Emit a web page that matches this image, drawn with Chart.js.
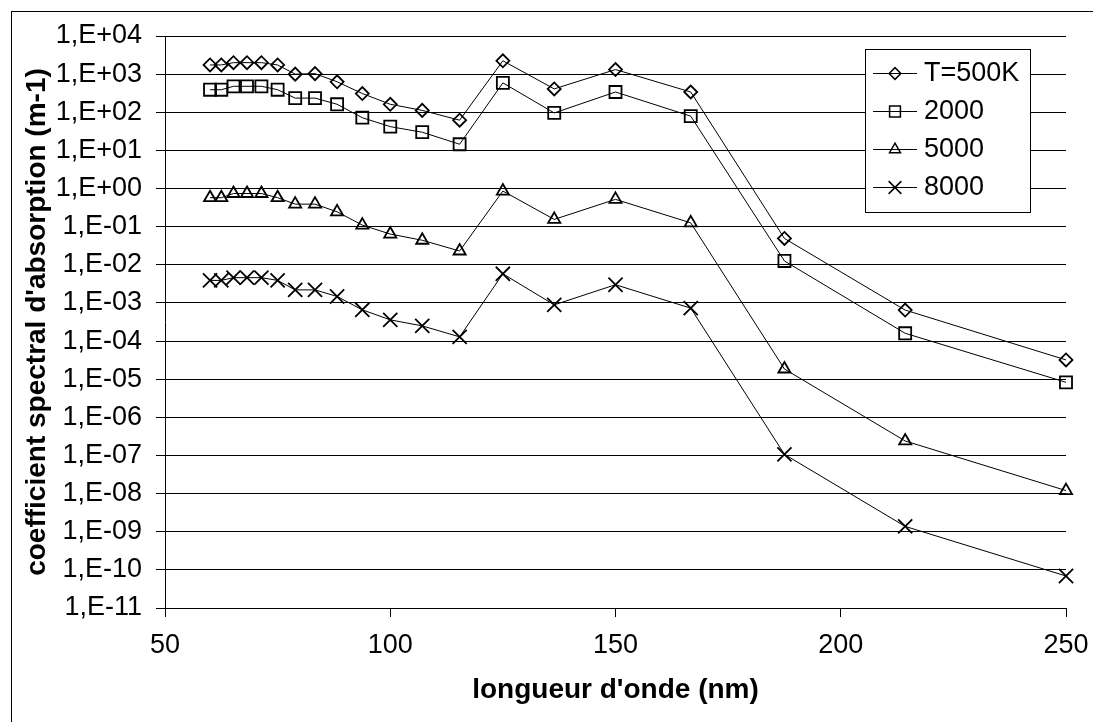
<!DOCTYPE html>
<html>
<head>
<meta charset="utf-8">
<script src="https://cdn.jsdelivr.net/npm/chart.js@4.4.1/dist/chart.umd.min.js"></script>
<style>
  html, body { margin: 0; padding: 0; background: #fff; }
  #wrap { width: 1093px; height: 722px; }
</style>
</head>
<body>
<div id="wrap"><canvas id="plot" width="1093" height="722"></canvas></div>
<script>
// wavelength (nm)
const wavelengths = [60, 62.5, 65.2, 68.2, 71.4, 75, 78.9, 83.3, 88.2, 93.8, 100, 107.1, 115.4, 125, 136.4, 150, 166.7, 187.5, 214.3, 250];

const seriesLabels = ['T=500K', '2000', '5000', '8000'];
const seriesStyles = ['rectRot', 'rect', 'triangle', 'crossRot'];

// absorption coefficient (m-1) per temperature
const k500 = [1740, 1740, 2000, 2000, 2000, 1740, 1000, 1030, 630, 310, 162, 112, 62, 2240, 410, 1320, 340, 0.049, 6.5e-4, 3.2e-5];
const k2000 = [390, 390, 480, 480, 480, 390, 235, 235, 162, 72, 42, 30, 14.5, 590, 96, 340, 79, 0.0126, 1.6e-4, 8.3e-6];
const k5000 = [0.575, 0.575, 0.74, 0.74, 0.74, 0.575, 0.39, 0.39, 0.245, 0.11, 0.064, 0.044, 0.023, 0.86, 0.155, 0.52, 0.126, 1.85e-5, 2.4e-7, 1.2e-8];
const k8000 = [0.0039, 0.0039, 0.0046, 0.0046, 0.0046, 0.0039, 0.0022, 0.0022, 0.00148, 0.00066, 0.00036, 0.00025, 0.000129, 0.0058, 0.00089, 0.0030, 0.00073, 1.07e-7, 1.38e-9, 6.9e-11];

const xTicks = [50, 100, 150, 200, 250];
const yTickValues = [1e-11, 1e-10, 1e-9, 1e-8, 1e-7, 1e-6, 1e-5, 1e-4, 1e-3, 1e-2, 1e-1, 1, 1e1, 1e2, 1e3, 1e4];
const yTickLabels = ['1,E-11', '1,E-10', '1,E-09', '1,E-08', '1,E-07', '1,E-06', '1,E-05', '1,E-04', '1,E-03', '1,E-02', '1,E-01', '1,E+00', '1,E+01', '1,E+02', '1,E+03', '1,E+04'];

const FONT = "'Liberation Sans', Arial, sans-serif";
const radii = { rectRot: 6.5, rect: 8.5, triangle: 7, crossRot: 10 };

function toPoints(values) {
  return wavelengths.map((x, i) => ({ x: x, y: values[i] }));
}

const allSeries = [k500, k2000, k5000, k8000];
const datasets = allSeries.map((vals, i) => ({
  label: seriesLabels[i],
  data: toPoints(vals),
  borderColor: '#000',
  borderWidth: 1,
  pointStyle: seriesStyles[i],
  pointRadius: radii[seriesStyles[i]],
  pointBorderColor: '#000',
  pointBackgroundColor: 'rgba(0,0,0,0)',
  pointBorderWidth: 1.8,
  tension: 0,
  clip: false
}));

// white page + outer frame (right/bottom edges fall outside the picture)
const framePlugin = {
  id: 'frame',
  beforeDraw(chart) {
    const ctx = chart.ctx;
    ctx.save();
    ctx.fillStyle = '#fff';
    ctx.fillRect(0, 0, chart.width, chart.height);
    ctx.strokeStyle = '#000';
    ctx.lineWidth = 1;
    ctx.strokeRect(11.5, 11.5, 1200, 1200);
    ctx.restore();
  }
};

// boxed legend inside the plot, line + marker per entry
const boxLegend = {
  id: 'boxLegend',
  afterDraw(chart) {
    const ctx = chart.ctx;
    const left = 865.5, top = 49.5, w = 165, h = 163;
    ctx.save();
    ctx.fillStyle = '#fff';
    ctx.fillRect(left, top, w, h);
    ctx.strokeStyle = '#000';
    ctx.lineWidth = 1;
    ctx.strokeRect(left, top, w, h);
    chart.data.datasets.forEach((ds, i) => {
      const y = 73 + i * 38;
      ctx.beginPath();
      ctx.moveTo(873, y + 0.5);
      ctx.lineTo(917, y + 0.5);
      ctx.strokeStyle = '#000';
      ctx.lineWidth = 1;
      ctx.stroke();
      ctx.fillStyle = 'rgba(0,0,0,0)';
      ctx.lineWidth = 1.5;
      Chart.helpers.drawPoint(ctx, {
        pointStyle: ds.pointStyle,
        radius: ds.pointRadius * 0.9,
        rotation: 0,
        borderWidth: 1.5
      }, 895, y + 0.5);
      ctx.fillStyle = '#000';
      ctx.font = '27px ' + FONT;
      ctx.textAlign = 'left';
      ctx.textBaseline = 'middle';
      ctx.fillText(ds.label, 924, y + 1);
    });
    ctx.restore();
  }
};

const config = {
  type: 'line',
  data: { datasets: datasets },
  options: {
    responsive: false,
    animation: false,
    devicePixelRatio: 1,
    layout: { padding: { left: 14, top: 36, right: 27, bottom: 15 } },
    plugins: {
      legend: { display: false },
      tooltip: { enabled: false }
    },
    scales: {
      x: {
        type: 'linear',
        min: 50,
        max: 250,
        afterBuildTicks: (scale) => { scale.ticks = xTicks.map(v => ({ value: v })); },
        afterFit: (scale) => {
          scale.height = 707 - 608;
          scale.paddingLeft = 0;
          scale.paddingRight = 0;
        },
        border: { display: true, color: '#000', width: 1 },
        grid: { drawOnChartArea: false, drawTicks: true, tickLength: 9, color: '#000' },
        ticks: {
          color: '#000',
          padding: 12,
          font: { family: FONT, size: 27 },
          maxRotation: 0,
          autoSkip: false,
          callback: (v) => String(v)
        },
        title: {
          display: true,
          text: "longueur d'onde (nm)",
          color: '#000',
          font: { family: FONT, size: 28, weight: 'bold' },
          padding: { top: 0, bottom: 0 }
        }
      },
      y: {
        type: 'logarithmic',
        min: 1e-11,
        max: 1e4,
        afterBuildTicks: (scale) => { scale.ticks = yTickValues.map(v => ({ value: v })); },
        afterFit: (scale) => {
          scale.width = 165 - 14;
          scale.paddingTop = 0;
          scale.paddingBottom = 0;
        },
        border: { display: true, color: '#000', width: 1 },
        grid: { drawOnChartArea: true, drawTicks: true, tickLength: 9, color: '#000', lineWidth: 1 },
        ticks: {
          color: '#000',
          padding: 14,
          autoSkip: false,
          font: { family: FONT, size: 27 },
          callback: (v) => yTickLabels[yTickValues.indexOf(v)]
        },
        title: {
          display: true,
          text: "coefficient spectral d'absorption (m-1)",
          color: '#000',
          font: { family: FONT, size: 28, weight: 'bold' },
          padding: { top: 6, bottom: 0 }
        }
      }
    }
  },
  plugins: [framePlugin, boxLegend]
};

const canvas = document.getElementById('plot');
const myChart = new Chart(canvas, config);
</script>
</body>
</html>
